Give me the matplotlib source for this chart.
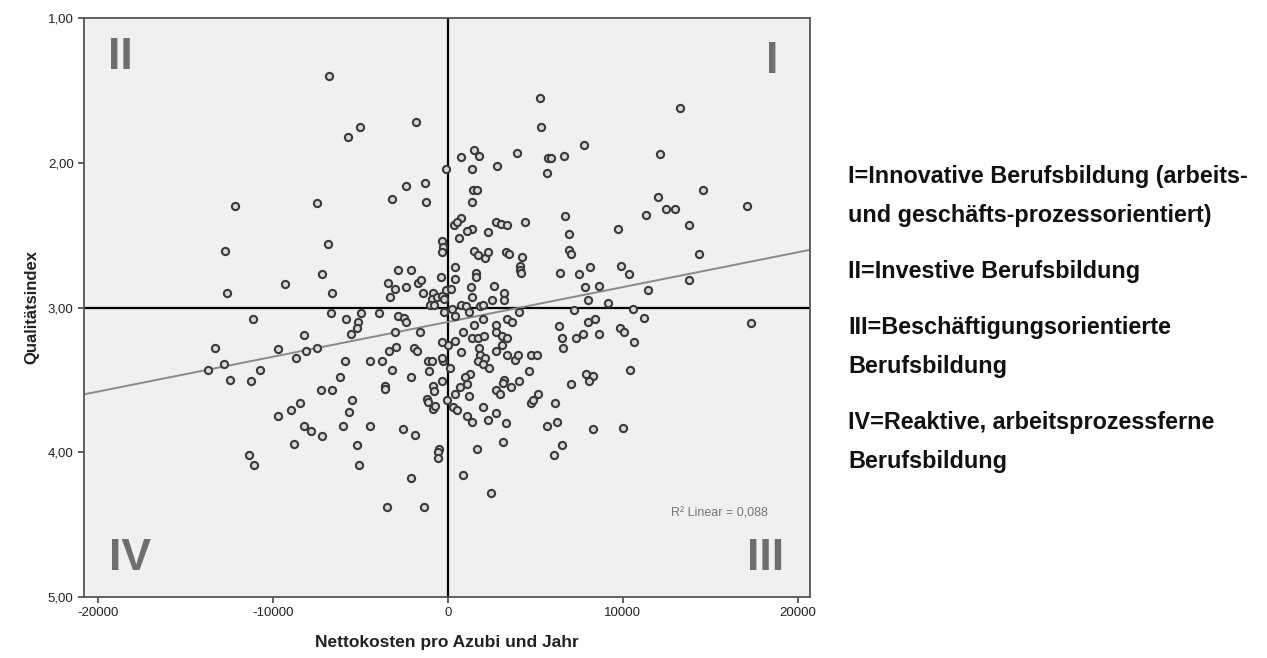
import numpy as np
from matplotlib import pyplot as plt

plt.rcParams['font.family'] = ['Liberation Sans', 'DejaVu Sans']

# Nettokosten pro Azubi und Jahr (Euro) je Betrieb
kosten = [
    -6800, -5030, -5710, -1830, 5260, 5310, 13260, 7770, 1490, 1770, 740, 3940, 5710, 5890, 6630, 12110,
    -110, 1370, 2800, 5660, -2400, -1310, -3200, -1260, -12170, -7490,
    1430, 1660, 1370, 12000, 14570, 17090, 12460, 12970, 11310, 13770,
    6690, 740, 340, 510, 2740, 3030, 3370, 4400, 9710, 6910, 1370, 1090, 630, 2290,
    -6860, -12740, -340, -290, -340, 1490, 1710, 2110, 2290, 3310,
    3490, 4230, 6910, 7030, 14340, 400, -2860, -2110, -7200, -400,
    400, 4110, 4110, 4170, 1600, 1600, 6400, 7490, 8110, 9890, 10340,
    -9310, -12630, -6630, -3430, -3030, -3310, -2400, -1710, -1540, -1430,
    -860, -910, -630, -340, -110, -230, 170, -1030, 1310, 2630,
    1370, 3200, 3200, 2510, 7830, 8630, 11430, 13770, 8000, 9140,
    740, 1030, 1830, 2000, 10570, 7200,
    -11140, -6690, -5830, -4970, -5140, -5200, -5540, -3940, -2860, -2510,
    -2400, -230, 400, 230, -3030, -1600, -8230, -800, 1200, 4060,
    11200, 17310, 6340, 8000, 8400, 6510, 7310, 7710, 8630, 9830,
    10060, 10630, 6570, 3370, 3660, 1490, 2000, 2740, 2740, 860,
    1370, 1710, 2060, 3090, 3370, 400, 0, -340, 3090,
    1770, 1830, 1710, 2110, 2000, 2340, 740, 2740, 3370, 3830,
    4000, 4740, 5090, -13310, -9710, -8110, -7490, -8690, -3370, -2970,
    -1940, -1770, -5890, -4460, -3770, -1140, -910, -290, -340,
    -12800, -13710, -10740, -12460, -11260, -3200, -1090, 110, -6170, -2110,
    4630, 7890, 8290, 8060, 10400, 1260, 970, 1090, 690, 400,
    3200, 3140, 4060, 3600, 7030, 2740, 2970, 1200, -340, -60,
    5140, 4740, 4860, 6110, 2000, 290, 510, -860, -800, -1200,
    -1140, -860, -740, -3600, -3600, -7260, -6630, -5490, -5660, -8460, -8970,
    -9710, -8230, -7830, -7200, -6000, -4460, -2570, -1890, -8800, -5200,
    -510, 1090, 1370, 2290, 2740, 3310, 6230, 5660, 8290, 10000,
    3140, 6510, 1660, -11370, -11090, -5090, -2110, -3490, -1370, -570,
    -570, 860, 2460, 6060,
]

# Qualitätsindex (1 = hoch, 5 = niedrig), gleiche Reihenfolge wie kosten
qualitaet = [
    1.40, 1.75, 1.82, 1.72, 1.55, 1.75, 1.62, 1.88, 1.91, 1.95, 1.96, 1.93, 1.97, 1.97, 1.95, 1.94,
    2.04, 2.04, 2.02, 2.07, 2.16, 2.14, 2.25, 2.27, 2.30, 2.28,
    2.19, 2.19, 2.27, 2.24, 2.19, 2.30, 2.32, 2.32, 2.36, 2.43,
    2.37, 2.38, 2.43, 2.41, 2.41, 2.42, 2.43, 2.41, 2.46, 2.49, 2.46, 2.47, 2.52, 2.48,
    2.56, 2.61, 2.54, 2.58, 2.62, 2.61, 2.64, 2.66, 2.62, 2.62,
    2.63, 2.65, 2.60, 2.63, 2.63, 2.72, 2.74, 2.74, 2.77, 2.79,
    2.80, 2.71, 2.74, 2.76, 2.76, 2.79, 2.76, 2.77, 2.72, 2.71, 2.77,
    2.84, 2.90, 2.90, 2.83, 2.87, 2.93, 2.86, 2.83, 2.81, 2.90,
    2.90, 2.94, 2.93, 2.92, 2.88, 2.94, 2.87, 2.98, 2.86, 2.85,
    2.93, 2.90, 2.95, 2.95, 2.86, 2.85, 2.88, 2.81, 2.95, 2.97,
    2.98, 2.99, 2.99, 2.98, 3.01, 3.02,
    3.08, 3.04, 3.08, 3.04, 3.10, 3.14, 3.18, 3.04, 3.06, 3.07,
    3.10, 3.03, 3.06, 3.01, 3.17, 3.17, 3.19, 2.98, 3.03, 3.03,
    3.07, 3.11, 3.13, 3.10, 3.08, 3.21, 3.21, 3.18, 3.18, 3.14,
    3.17, 3.24, 3.28, 3.08, 3.10, 3.12, 3.08, 3.12, 3.17, 3.17,
    3.21, 3.21, 3.20, 3.20, 3.21, 3.23, 3.26, 3.24, 3.26,
    3.28, 3.33, 3.37, 3.35, 3.39, 3.42, 3.31, 3.30, 3.33, 3.36,
    3.33, 3.33, 3.33, 3.28, 3.29, 3.30, 3.28, 3.35, 3.30, 3.27,
    3.28, 3.30, 3.37, 3.37, 3.37, 3.37, 3.37, 3.37, 3.35,
    3.39, 3.43, 3.43, 3.50, 3.51, 3.43, 3.44, 3.42, 3.48, 3.48,
    3.44, 3.46, 3.47, 3.51, 3.43, 3.46, 3.48, 3.53, 3.55, 3.60,
    3.50, 3.52, 3.51, 3.55, 3.53, 3.57, 3.60, 3.61, 3.51, 3.64,
    3.60, 3.66, 3.64, 3.66, 3.69, 3.69, 3.71, 3.54, 3.58, 3.63,
    3.65, 3.70, 3.68, 3.54, 3.56, 3.57, 3.57, 3.64, 3.72, 3.66, 3.71,
    3.75, 3.82, 3.85, 3.89, 3.82, 3.82, 3.84, 3.88, 3.94, 3.95,
    3.98, 3.75, 3.79, 3.78, 3.73, 3.80, 3.79, 3.82, 3.84, 3.83,
    3.93, 3.95, 3.98, 4.02, 4.09, 4.09, 4.18, 4.38, 4.38, 4.00,
    4.04, 4.16, 4.28, 4.02,
]

x_ticks = [-20000, -10000, 0, 10000, 20000]
y_ticks = [1, 2, 3, 4, 5]
y_ticklabels = ['1,00', '2,00', '3,00', '4,00', '5,00']

# Quadranten-Beschriftung: Text, Position (Achsenanteil)
quadranten = ['II', 'I', 'IV', 'III']
quadrant_pos = [(0.050, 0.912), (0.948, 0.905), (0.063, 0.047), (0.939, 0.047)]

legende = [
    ['I=Innovative Berufsbildung (arbeits-', 'und geschäfts-prozessorientiert)'],
    ['II=Investive Berufsbildung'],
    ['III=Beschäftigungsorientierte', 'Berufsbildung'],
    ['IV=Reaktive, arbeitsprozessferne', 'Berufsbildung'],
]
r2_text = 'R² Linear = 0,088'

x = np.array(kosten)
y = np.array(qualitaet)

fig = plt.figure(figsize=(12.67, 6.58), dpi=100)
ax = fig.add_axes([84 / 1267, 1 - 597 / 658, 726 / 1267, 579 / 658])
ax.set_facecolor('#f0f0f0')

xmin, xmax = -20800, 20700
ax.set_xlim(xmin, xmax)
ax.set_ylim(5, 1)

# Quadrantengrenzen
ax.axhline(3, color='black', lw=1.6, zorder=1)
ax.axvline(0, color='black', lw=1.6, zorder=1)

# lineare Anpassung
m, b = np.polyfit(x, y, 1)
xl = np.array([xmin, xmax])
ax.plot(xl, m * xl + b, color='#8a8a8a', lw=1.4, zorder=2)

ax.plot(x, y, 'o', ms=5.2, mfc='#d8d8d8', mec='#3a3a3a', mew=1.5, zorder=3)

ax.set_xticks(x_ticks)
ax.set_xticklabels([str(t) for t in x_ticks])
ax.set_yticks(y_ticks)
ax.set_yticklabels(y_ticklabels)
ax.tick_params(direction='out', length=4, width=1.2, colors='#444444',
               labelcolor='#222222', labelsize=9.5)
for s in ax.spines.values():
    s.set_color('#555555')
    s.set_linewidth(1.3)

ax.set_xlabel('Nettokosten pro Azubi und Jahr', fontsize=12.5, fontweight='bold',
              color='#222222', labelpad=11)
ax.set_ylabel('Qualitätsindex', fontsize=12, fontweight='bold',
              color='#222222', labelpad=6)

for txt, (px, py) in zip(quadranten, quadrant_pos):
    ax.text(px, py, txt, transform=ax.transAxes, ha='center', va='baseline',
            fontsize=32, fontweight='bold', color='#6e6e6e')

ax.text(0.942, 0.145, r2_text, transform=ax.transAxes, ha='right', va='center',
        fontsize=9, color='#777777')

# Erläuterung der Quadranten rechts
y_px = 183
for block in legende:
    for line in block:
        fig.text(848 / 1267, 1 - y_px / 658, line, ha='left', va='baseline',
                 fontsize=16.8, fontweight='bold', color='#111111')
        y_px += 39
    y_px += 17

fig.savefig('out.png', dpi=100)
